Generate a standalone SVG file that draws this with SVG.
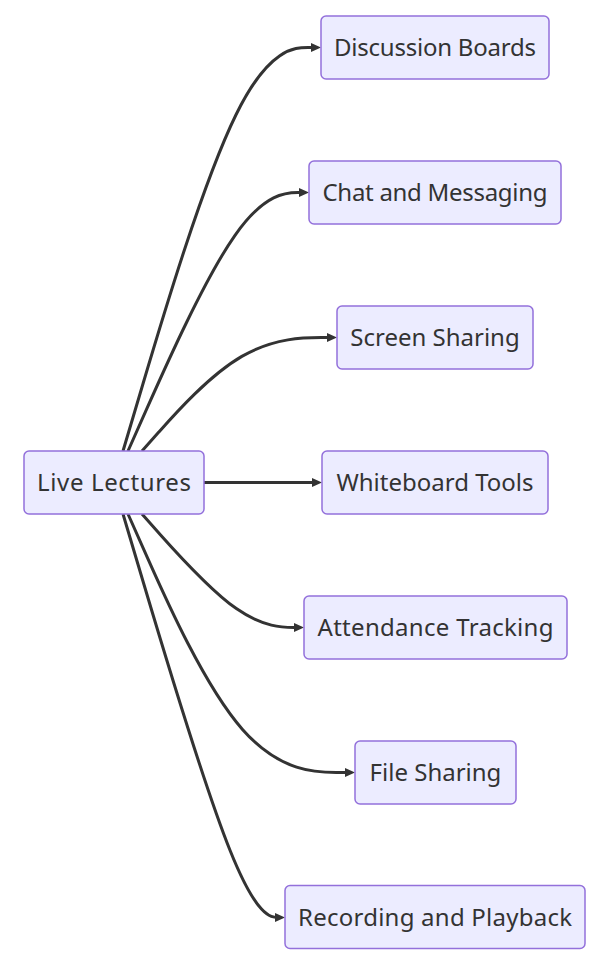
<svg xmlns="http://www.w3.org/2000/svg" width="604" height="960" viewBox="0 0 604 960">
<style>
.node rect{fill:#ECECFF;stroke:#9370DB;stroke-width:1.5}
.node text{font-family:"Noto Sans","Open Sans",sans-serif;font-size:24px;fill:#333;text-anchor:middle}
.edge{fill:none;stroke:#333;stroke-width:3}
</style>
<defs>
<marker id="arrow" viewBox="0 0 10 9" refX="5" refY="4.5" markerUnits="userSpaceOnUse" markerWidth="10" markerHeight="9" orient="auto">
<path d="M0,0 L10,4.5 L0,9 z" fill="#333"/>
</marker>
</defs>
<rect width="604" height="960" fill="#ffffff"/>
<g id="connectors">
<path class="edge" marker-end="url(#arrow)" d="M123,451 L143,383.75 C163,316.5 203,182 236,114.75 C269,47.5 295,47.5 308,47.5 L316,47.5"/>
<path class="edge" marker-end="url(#arrow)" d="M128,451 L147.17,407.92 C166.33,364.83 204.67,278.67 234.83,235.58 C265,192.5 287,192.5 298,192.5 L304,192.5"/>
<path class="edge" marker-end="url(#arrow)" d="M142,451 L158.83,432.08 C175.67,413.17 209.33,375.33 241.83,356.42 C274.33,337.5 305.67,337.5 321.33,337.5 L332,337.5"/>
<path class="edge" marker-end="url(#arrow)" d="M204,482.5 L317,482.5"/>
<path class="edge" marker-end="url(#arrow)" d="M142,514 L158.83,532.92 C175.67,551.83 209.33,589.67 236.33,608.58 C263.33,627.5 283.67,627.5 293.83,627.5 L299,627.5"/>
<path class="edge" marker-end="url(#arrow)" d="M128,514 L147.17,557.08 C166.33,600.17 204.67,686.33 242.5,729.42 C280.33,772.5 317.67,772.5 336.33,772.5 L350,772.5"/>
<path class="edge" marker-end="url(#arrow)" d="M123,514 L143,581.25 C163,648.5 203,783 230,850.25 C257,917.5 271,917.5 278,917.5 L280,917.5"/>
</g>
<g id="node-live" class="node"><rect x="24" y="451" width="180" height="63" rx="5"/><text x="114" y="490.5" textLength="154">Live Lectures</text></g>
<g id="node-discussion" class="node"><rect x="321" y="16" width="228" height="63" rx="5"/><text x="435" y="55.5" textLength="202">Discussion Boards</text></g>
<g id="node-chat" class="node"><rect x="309" y="161" width="252" height="63" rx="5"/><text x="435" y="200.5" textLength="225">Chat and Messaging</text></g>
<g id="node-screen" class="node"><rect x="337" y="306" width="196" height="63" rx="5"/><text x="435" y="345.5">Screen Sharing</text></g>
<g id="node-whiteboard" class="node"><rect x="322" y="451" width="226" height="63" rx="5"/><text x="435" y="490.5">Whiteboard Tools</text></g>
<g id="node-attendance" class="node"><rect x="304" y="596" width="263" height="63" rx="5"/><text x="435.5" y="635.5" textLength="236">Attendance Tracking</text></g>
<g id="node-file" class="node"><rect x="355" y="741" width="161" height="63" rx="5"/><text x="435.5" y="780.5">File Sharing</text></g>
<g id="node-recording" class="node"><rect x="285" y="885.5" width="300" height="63" rx="5"/><text x="435" y="925.5" textLength="274">Recording and Playback</text></g>
</svg>
